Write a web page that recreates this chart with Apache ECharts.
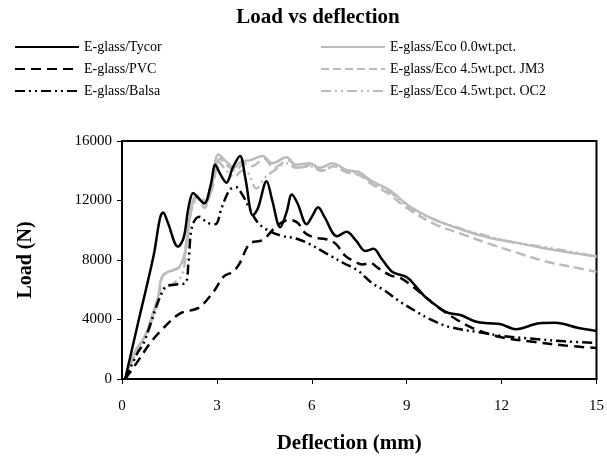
<!DOCTYPE html>
<html>
<head>
<meta charset="utf-8">
<script src="https://cdn.jsdelivr.net/npm/echarts@6/dist/echarts.min.js"></script>
<style>
  html, body { margin: 0; padding: 0; background: #fff; }
  #chart { width: 607px; height: 464px; }
</style>
</head>
<body>
<div id="chart"></div>
<script>
// deflection (mm), load (N) pairs
const tycor = [
  [0.1, 0], [0.5, 3700], [1.0, 8300], [1.2, 10800], [1.3, 11200], [1.45, 10500], [1.77, 8900],
  [1.95, 9500], [2.1, 11500], [2.25, 12500], [2.4, 12200], [2.6, 11800], [2.8, 13000], [2.95, 14400],
  [3.1, 13800], [3.3, 13200], [3.5, 14200], [3.73, 15000], [3.9, 13500], [4.14, 11000], [4.3, 11500],
  [4.57, 13300], [4.75, 12000], [5.0, 10200], [5.2, 11200], [5.37, 12400], [5.55, 11800], [5.84, 10400],
  [6.0, 10900], [6.2, 11550], [6.4, 10900], [6.8, 9600], [7.1, 9900], [7.4, 9300], [7.7, 8600],
  [7.95, 8750], [8.2, 8100], [8.55, 7200], [9.0, 6850], [9.3, 6200], [9.6, 5500], [10.25, 4500],
  [10.7, 4300], [11.2, 3850], [11.6, 3750], [11.95, 3700], [12.45, 3350], [13.2, 3750], [13.7, 3780],
  [14.4, 3450], [15, 3230]
]
const pvc = [
  [0.1, 0], [0.47, 1100], [0.92, 2500], [1.3, 3400], [1.83, 4400], [2.43, 4800], [2.87, 5800],
  [3.22, 6900], [3.5, 7200], [3.7, 7700], [4.04, 9100], [4.45, 9350], [4.9, 10300], [5.3, 10700],
  [5.55, 10500], [5.8, 9800], [6.1, 9500], [6.45, 9400], [6.75, 9100], [7.05, 8300], [7.35, 7900],
  [7.6, 7700], [7.85, 7800], [8.1, 7450], [8.5, 6950], [8.8, 6800], [9.2, 6200], [9.6, 5500],
  [10.0, 4800], [10.5, 4100], [11.0, 3500], [11.5, 3100], [12.0, 2800], [13.0, 2500], [14.0, 2250],
  [15, 2080]
]
const balsa = [
  [0.1, 0], [0.5, 1800], [0.66, 2300], [0.87, 3500], [1.07, 4800], [1.23, 5650], [1.39, 6200],
  [1.7, 6350], [2.0, 6450], [2.1, 7800], [2.22, 10300], [2.45, 10900], [2.7, 10500], [2.95, 10400],
  [3.15, 11500], [3.4, 12700], [3.6, 12900], [3.8, 12400], [4.0, 11600], [4.3, 10500], [4.7, 9900],
  [5.1, 9600], [5.5, 9450], [5.9, 9100], [6.45, 8450], [7.0, 7800], [7.45, 7300], [7.9, 6450],
  [8.3, 5950], [8.75, 5250], [9.25, 4600], [9.8, 3950], [10.35, 3500], [11.4, 3100], [12.0, 2900],
  [13.0, 2700], [14.0, 2530], [15, 2420]
]
const eco00 = [
  [0.1, 0], [0.4, 1800], [0.73, 2900], [1.0, 4600], [1.15, 5600], [1.25, 6800], [1.45, 7200],
  [1.8, 7500], [2.0, 8600], [2.15, 11000], [2.34, 12300], [2.6, 11800], [2.8, 12500], [3.05, 15100],
  [3.35, 14500], [3.55, 14200], [3.75, 14600], [4.05, 14700], [4.45, 15000], [4.75, 14500],
  [5.2, 14900], [5.5, 14400], [5.95, 14500], [6.25, 14200], [6.65, 14500], [7.1, 14050], [7.5, 13900],
  [7.9, 13300], [8.45, 12700], [9.1, 11600], [9.9, 10700], [10.8, 10000], [11.6, 9500], [12.5, 9150],
  [13.3, 8800], [14.0, 8550], [15, 8250]
]
const ecoJM3 = [
  [0.1, 0], [0.4, 1600], [0.75, 3000], [1.0, 4300], [1.2, 6000], [1.3, 7000], [1.6, 7300],
  [1.9, 7700], [2.05, 9500], [2.25, 11800], [2.45, 12300], [2.65, 11900], [2.85, 12800], [3.1, 14800],
  [3.3, 14400], [3.6, 14000], [3.85, 14500], [4.1, 14300], [4.5, 14800], [4.8, 14200], [5.25, 14700],
  [5.6, 14200], [6.0, 14400], [6.3, 14000], [6.7, 14300], [7.1, 13900], [7.5, 13700], [7.9, 13100],
  [8.4, 12500], [9.0, 11500], [9.9, 10400], [10.8, 9700], [11.6, 9100], [12.4, 8550], [13.4, 7900],
  [14.2, 7550], [15, 7200]
]
const ecoOC2 = [
  [0.1, 0], [0.45, 1700], [0.75, 2800], [1.05, 4500], [1.2, 5500], [1.35, 6200], [1.6, 6400],
  [1.9, 7000], [2.05, 9000], [2.2, 11500], [2.4, 12100], [2.6, 11500], [2.85, 13200], [3.05, 14600],
  [3.3, 14000], [3.55, 13600], [3.8, 14000], [4.0, 13800], [4.25, 12800], [4.5, 13500], [4.8, 14000],
  [5.2, 14500], [5.5, 14200], [5.95, 14300], [6.3, 14000], [6.7, 14300], [7.1, 13900], [7.5, 13800],
  [7.9, 13200], [8.45, 12600], [9.1, 11500], [9.9, 10700], [10.8, 10050], [11.4, 9700], [12.35, 9200],
  [13.4, 8850], [14.46, 8450], [15, 8200]
]
const names = [
  'E-glass/Tycor', 'E-glass/PVC', 'E-glass/Balsa',
  'E-glass/Eco 0.0wt.pct.', 'E-glass/Eco 4.5wt.pct. JM3', 'E-glass/Eco 4.5wt.pct. OC2'
]

const serif = '"Liberation Serif", "DejaVu Serif", serif'
const dashDotDot = [10, 4, 2, 4, 2, 4]
const black = '#000'
const grey = '#bcbcbc'

function line(name, data, color, type) {
  return {
    name, type: 'line', data, smooth: 0.35, symbol: 'none', silent: true,
    lineStyle: { color, width: 2.5, type },
    itemStyle: { color },
  }
}

const legendBase = {
  orient: 'vertical', top: 40, padding: 0,
  itemWidth: 64, itemHeight: 14, itemGap: 8,
  itemStyle: { opacity: 0 },
  textStyle: { fontFamily: serif, fontSize: 14, color: black },
}

const chart = echarts.init(document.getElementById('chart'))
chart.setOption({
  animation: false,
  title: {
    text: 'Load vs deflection', left: 313, top: 2, textAlign: 'center',
    textStyle: { fontFamily: serif, fontWeight: 'bold', fontSize: 21, color: black },
  },
  legend: [
    { ...legendBase, data: names.slice(0, 3), left: 14 },
    { ...legendBase, data: names.slice(3), left: 320 },
  ],
  grid: { left: 122, right: 10, top: 141, bottom: 85, show: true, borderColor: black, borderWidth: 2 },
  xAxis: {
    type: 'value', min: 0, max: 15, interval: 3,
    name: 'Deflection (mm)', nameLocation: 'middle', nameGap: 54,
    nameTextStyle: { fontFamily: serif, fontWeight: 'bold', fontSize: 21, color: black, padding: [0, 20, 0, 0] },
    axisLine: { lineStyle: { color: black, width: 2 } },
    axisTick: { show: true, length: 5, lineStyle: { color: black } },
    axisLabel: { fontFamily: serif, fontSize: 15, color: black, margin: 20 },
    splitLine: { show: false },
  },
  yAxis: {
    type: 'value', min: 0, max: 16000, interval: 4000,
    name: 'Load (N)', nameLocation: 'middle', nameGap: 86,
    nameTextStyle: { fontFamily: serif, fontWeight: 'bold', fontSize: 20, color: black },
    axisLine: { show: true, lineStyle: { color: black, width: 2 } },
    axisTick: { show: true, length: 5, lineStyle: { color: black } },
    axisLabel: { fontFamily: serif, fontSize: 15, color: black, margin: 10, formatter: (v) => String(v) },
    splitLine: { show: false },
  },
  series: [
    line(names[3], eco00, grey, 'solid'),
    line(names[4], ecoJM3, grey, 'dashed'),
    line(names[5], ecoOC2, grey, dashDotDot),
    line(names[0], tycor, black, 'solid'),
    line(names[1], pvc, black, [10, 6]),
    line(names[2], balsa, black, dashDotDot),
  ],
})
</script>
</body>
</html>
